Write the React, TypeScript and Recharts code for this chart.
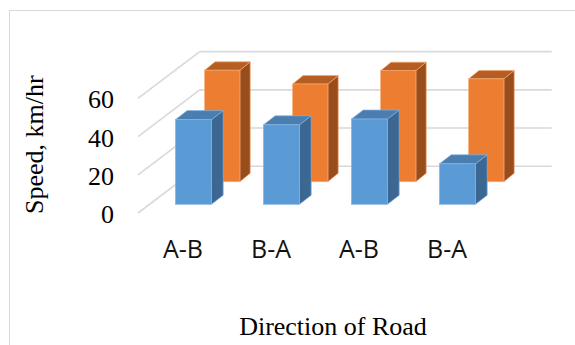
import React from 'react';
import { BarChart, Bar, XAxis, YAxis, CartesianGrid } from 'recharts';

// Two rows of 3-D columns per road direction
const directions = ['A-B', 'B-A', 'A-B', 'B-A'];
const frontSpeeds = [44.3, 41.6, 44.6, 21.2];
const backSpeeds = [58.3, 51.1, 58.1, 53.8];
const speedTicks = [0, 20, 40, 60];

const data = directions.map((direction, i) => ({
  direction,
  front: frontSpeeds[i],
  back: backSpeeds[i],
}));

// Oblique projection: how far a point slides right/up as it moves back along the floor
const WALL = { dx: 61.7, dy: 46.7 };
const FRONT_ROW = { dx: 11.5, dy: 8.7, depthX: 11.7, depthY: 9, shrink: 0 };
const BACK_ROW = { dx: 40.7, dy: 31.3, depthX: 10.3, depthY: 8.4, shrink: 0.8 };

const BLUE = { front: '#5B9BD5', top: '#4A7DB0', side: '#3B6792', edge: '#86B3DF' };
const ORANGE = { front: '#ED7D31', top: '#B65E21', side: '#984D1B', edge: '#F3A46D' };

const GRID = '#D9D9D9';
const SERIF = '"Liberation Serif", "Times New Roman", serif';
const SANS = '"Open Sans", "Noto Sans", sans-serif';

type Row = typeof FRONT_ROW;
type Faces = typeof BLUE;

const makeColumn = (row: Row, faces: Faces) => (props: any) => {
  const { x, y, width, height } = props;
  if (height == null || width == null) return <g />;
  const w = width - row.shrink;
  const fx = x + row.dx;
  const fy = y - row.dy;
  const h = height;
  const ex = row.depthX;
  const ey = row.depthY;
  const top = `${fx},${fy} ${fx + ex},${fy - ey} ${fx + w + ex},${fy - ey} ${fx + w},${fy}`;
  const side = `${fx + w},${fy} ${fx + w + ex},${fy - ey} ${fx + w + ex},${fy + h - ey} ${fx + w},${fy + h}`;
  return (
    <g>
      <polygon points={side} fill={faces.side} stroke={faces.edge} strokeWidth={0.7} strokeLinejoin="round" />
      <polygon points={top} fill={faces.top} stroke={faces.edge} strokeWidth={0.7} strokeLinejoin="round" />
      <rect x={fx} y={fy} width={w} height={h} fill={faces.front} stroke={faces.edge} strokeWidth={0.7} />
    </g>
  );
};

// Each horizontal grid line runs back along the left side, then across the back wall
const wallLine = (props: any) => {
  const { x1, x2, y1, index } = props;
  const bx = x1 + WALL.dx;
  const by = y1 - WALL.dy;
  return (
    <g key={`wall-${index}`}>
      <line x1={x1} y1={y1} x2={bx} y2={by} stroke={GRID} strokeWidth={1.6} />
      <line x1={bx} y1={by} x2={x2 + WALL.dx} y2={by} stroke={GRID} strokeWidth={1.6} />
    </g>
  );
};

const SpeedTick = (props: any) => (
  <text x={props.x} y={props.y + 10} textAnchor="end" fontFamily={SERIF} fontSize={26} fill="#000">
    {props.payload.value}
  </text>
);

const DirectionTick = (props: any) => (
  <text x={props.x + 1} y={props.y + 45} textAnchor="middle" fontFamily={SANS} fontSize={25} fill="#111">
    {props.payload.value}
  </text>
);

const SpeedTitle = () => (
  <text
    transform="translate(42.8,144.7) rotate(-90)"
    textAnchor="middle"
    fontFamily={SERIF}
    fontSize={26}
    fill="#000"
  >
    Speed, km/hr
  </text>
);

const DirectionTitle = () => (
  <text x={333} y={335} textAnchor="middle" fontFamily={SERIF} fontSize={26} fill="#000">
    Direction of Road
  </text>
);

export default function App() {
  return (
    <div
      style={{
        position: 'absolute',
        left: 0,
        top: 0,
        width: 575,
        height: 345,
        overflow: 'hidden',
        background: '#fff',
      }}
    >
      <div
        style={{
          position: 'absolute',
          left: 8.5,
          top: 9.5,
          width: 640,
          height: 420,
          border: `1.6px solid ${GRID}`,
          boxSizing: 'border-box',
        }}
      />
      <div style={{ position: 'absolute', left: 0, top: 0 }}>
        <BarChart
          width={575}
          height={345}
          data={data}
          margin={{ top: 98.3, right: 85, bottom: 102, left: 78 }}
          barSize={36}
          barGap={-36}
        >
          <CartesianGrid vertical={false} horizontal={wallLine} />
          <XAxis
            dataKey="direction"
            height={30}
            axisLine={false}
            tickLine={false}
            tickSize={0}
            tickMargin={0}
            interval={0}
            tick={DirectionTick}
            label={{ value: 'Direction of Road', content: DirectionTitle }}
          />
          <YAxis
            width={60}
            domain={[0, 60]}
            ticks={speedTicks}
            axisLine={false}
            tickLine={false}
            tickSize={0}
            tickMargin={24}
            tick={SpeedTick}
            label={{ value: 'Speed, km/hr', content: SpeedTitle }}
          />
          <Bar dataKey="back" isAnimationActive={false} shape={makeColumn(BACK_ROW, ORANGE)} />
          <Bar dataKey="front" isAnimationActive={false} shape={makeColumn(FRONT_ROW, BLUE)} />
        </BarChart>
      </div>
    </div>
  );
}
